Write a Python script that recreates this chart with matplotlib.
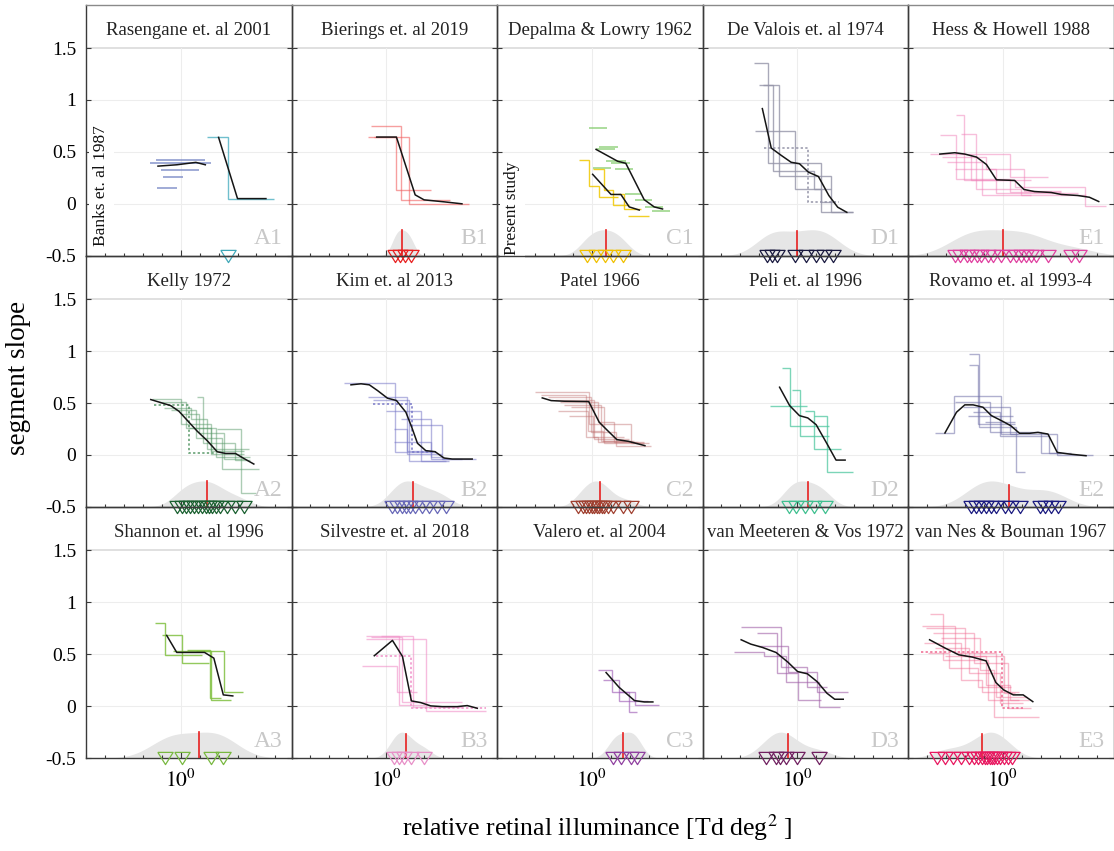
"""Segment slope vs relative retinal illuminance, one panel per study."""

import matplotlib

matplotlib.use("Agg")
import matplotlib.pyplot as plt
import numpy as np
from matplotlib.ticker import NullFormatter

# x values are log10(relative retinal illuminance), y values are segment slopes.

TITLES = [
    "Rasengane et. al 2001", "Bierings et. al 2019", "Depalma & Lowry 1962",
    "De Valois et. al 1974", "Hess & Howell 1988",
    "Kelly 1972", "Kim et. al 2013", "Patel 1966", "Peli et. al 1996",
    "Rovamo et. al 1993-4",
    "Shannon et. al 1996", "Silvestre et. al 2018", "Valero et. al 2004",
    "van Meeteren & Vos 1972", "van Nes & Bouman 1967",
]
TAGS = ["A1", "B1", "C1", "D1", "E1", "A2", "B2", "C2", "D2", "E2",
        "A3", "B3", "C3", "D3", "E3"]

# ---- A1
A1_BANKS_SEGS = [(-0.13, 0.13, 0.42), (-0.16, 0.16, 0.39), (-0.105, 0.095, 0.33),
                 (-0.095, 0.01, 0.26), (-0.126, -0.02, 0.15)]
A1_BANKS_MEAN_X = [-0.12, -0.02, 0.08, 0.13]
A1_BANKS_MEAN_Y = [0.363, 0.376, 0.399, 0.376]
A1_STEPS = [([0.14, 0.25, 0.49], [0.64, 0.05])]
A1_MEAN_X = [0.20, 0.30, 0.45]
A1_MEAN_Y = [0.64, 0.05, 0.05]
A1_MARKERS = [0.25]

# ---- B1
B1_STEPS = [([-0.079, 0.079, 0.337], [0.75, 0.04]),
            ([-0.095, 0.053, 0.237], [0.64, 0.13]),
            ([-0.063, 0.121, 0.437], [0.64, 0.0])]
B1_MEAN_X = [-0.05, 0.054, 0.153, 0.2, 0.305, 0.40]
B1_MEAN_Y = [0.643, 0.643, 0.086, 0.038, 0.019, 0.0]
B1_MARKERS = [0.047, 0.072, 0.1, 0.13]
B1_MEDIAN = 0.086

# ---- C1
C1_GREEN_SEGS = [(-0.016, 0.079, 0.73), (0.04, 0.14, 0.543), (0.021, 0.121, 0.524),
                 (0.074, 0.179, 0.41), (0.1, 0.2, 0.39), (0.005, 0.1, 0.347),
                 (0.121, 0.216, 0.337), (0.174, 0.268, 0.09), (0.226, 0.321, 0.04),
                 (0.279, 0.374, -0.033), (0.321, 0.411, -0.072)]
C1_GREEN_MEAN_X = [0.023, 0.137, 0.18, 0.277, 0.33, 0.374]
C1_GREEN_MEAN_Y = [0.524, 0.41, 0.39, 0.04, -0.03, -0.05]
C1_STEPS = [([-0.068, -0.016, 0.04, 0.137], [0.418, 0.17, 0.07]),
            ([0.005, 0.067, 0.11, 0.198], [0.338, 0.135, -0.007]),
            ([0.137, 0.172, 0.26], [0.096, -0.049]),
            ([0.19, 0.304], [-0.114])]
C1_MEAN_X = [0.005, 0.102, 0.154, 0.198, 0.251]
C1_MEAN_Y = [0.284, 0.09, 0.09, -0.03, -0.06]
C1_MARKERS = [-0.026, 0.021, 0.068, 0.11, 0.163]
C1_MEDIAN = 0.077

# ---- D1
D1_STEPS = [([-0.228, -0.154, 0.126, 0.293], [1.358, 0.392, -0.082]),
            ([-0.204, -0.128, 0.091, 0.179], [1.149, 0.32, 0.144]),
            ([-0.181, -0.098, 0.179, 0.293], [1.149, 0.266, -0.082]),
            ([-0.225, -0.009, 0.126, 0.20], [0.698, 0.144, 0.02])]
D1_DOTTED = ([-0.175, 0.056, 0.219], [0.54, 0.022])
D1_MEAN_X = [-0.184, -0.137, -0.084, -0.032, 0.012, 0.059, 0.112, 0.167, 0.214, 0.262]
D1_MEAN_Y = [0.917, 0.537, 0.466, 0.40, 0.386, 0.305, 0.263, 0.08, -0.033, -0.082]
D1_MARKERS = [-0.158, -0.132, -0.105, -0.011, 0.047, 0.1, 0.144, 0.188]
D1_MEDIAN = -0.002

# ---- E1
E1_STEPS = [([-0.244, -0.204, 0.151], [0.853, 0.231]),
            ([-0.332, -0.244, 0.037, 0.309], [0.66, 0.24, 0.111]),
            ([-0.221, -0.139, 0.098, 0.44], [0.676, 0.144, 0.08]),
            ([-0.384, -0.17, 0.063, 0.432, 0.545], [0.476, 0.225, 0.16, -0.023]),
            ([-0.323, -0.086, 0.112, 0.309], [0.45, 0.338, 0.128]),
            ([-0.296, -0.109, 0.151], [0.402, 0.08]),
            ([-0.253, -0.033, 0.396], [0.338, 0.102]),
            ([-0.165, 0.037, 0.239], [0.476, 0.257])]
E1_MEAN_X = [-0.332, -0.253, -0.2, -0.138, -0.086, -0.033, 0.063, 0.112, 0.168,
             0.256, 0.309, 0.396, 0.458, 0.507]
E1_MEAN_Y = [0.479, 0.492, 0.479, 0.45, 0.379, 0.231, 0.225, 0.138, 0.118, 0.109,
             0.09, 0.08, 0.063, 0.022]
E1_MARKERS = [-0.253, -0.226, -0.191, -0.165, -0.138, -0.112, -0.077, -0.051, -0.007,
              0.037, 0.072, 0.098, 0.125, 0.151, 0.177, 0.238, 0.362, 0.405]
E1_MEDIAN = 0.002

# ---- A2
A2_STEPS = [([-0.149, 0.0, 0.158, 0.333], [0.538, 0.296, 0.006]),
            ([-0.114, 0.026, 0.184, 0.368], [0.515, 0.257, -0.02]),
            ([-0.088, 0.053, 0.14, 0.36], [0.457, 0.344, 0.054]),
            ([-0.053, 0.079, 0.219, 0.412], [0.431, 0.167, -0.139]),
            ([0.0, 0.096, 0.228, 0.333], [0.392, 0.215, -0.042]),
            ([0.088, 0.119, 0.289, 0.368], [0.554, 0.119, -0.052]),
            ([0.193, 0.316, 0.395], [0.254, -0.364]),
            ([0.044, 0.158, 0.333], [0.257, 0.038])]
A2_DOTTED = ([-0.14, 0.044, 0.175], [0.48, 0.022])
A2_MEAN_X = [-0.158, -0.053, -0.009, 0.044, 0.088, 0.14, 0.193, 0.237, 0.289, 0.333, 0.386]
A2_MEAN_Y = [0.534, 0.476, 0.421, 0.315, 0.228, 0.138, 0.031, 0.015, 0.015, -0.033, -0.087]
A2_MARKERS = [-0.018, 0.005, 0.028, 0.049, 0.07, 0.091, 0.112, 0.132, 0.149, 0.167,
              0.184, 0.207, 0.246, 0.289, 0.333]
A2_MEDIAN = 0.14

# ---- B2
B2_STEPS = [([-0.221, 0.047, 0.261], [0.692, 0.026]),
            ([-0.098, 0.112, 0.296], [0.563, 0.009]),
            ([-0.072, 0.121, 0.332], [0.531, -0.055]),
            ([-0.002, 0.183, 0.314], [0.428, -0.055]),
            ([0.077, 0.235, 0.402], [0.347, -0.039]),
            ([0.121, 0.296, 0.472], [0.293, -0.039]),
            ([0.042, 0.112, 0.244], [0.251, 0.042]),
            ([0.042, 0.235, 0.305], [0.122, -0.023])]
B2_DOTTED = ([-0.072, 0.135, 0.261], [0.492, 0.026])
B2_MEAN_X = [-0.186, -0.133, -0.089, -0.046, 0.007, 0.054, 0.104, 0.135, 0.165, 0.209,
             0.258, 0.305, 0.349, 0.454]
B2_MEAN_Y = [0.676, 0.686, 0.676, 0.621, 0.547, 0.525, 0.412, 0.267, 0.113, 0.042,
             0.032, -0.029, -0.039, -0.039]
B2_MARKERS = [0.033, 0.059, 0.086, 0.107, 0.125, 0.153, 0.191, 0.226, 0.27, 0.314]
B2_MEDIAN = 0.143

# ---- C2
C2_STEPS = [([-0.302, -0.012, 0.207, 0.304], [0.604, 0.299, 0.112]),
            ([-0.267, -0.03, 0.032, 0.242], [0.582, 0.17, 0.122]),
            ([-0.232, -0.004, 0.128, 0.312], [0.556, 0.219, 0.09]),
            ([-0.196, 0.014, 0.198], [0.531, 0.154]),
            ([-0.17, 0.032, 0.119, 0.277], [0.508, 0.315, 0.122]),
            ([-0.144, 0.049, 0.207], [0.486, 0.132]),
            ([-0.109, 0.066, 0.277], [0.46, 0.112]),
            ([-0.179, -0.021, 0.058, 0.225], [0.428, 0.235, 0.138]),
            ([-0.118, 0.005, 0.172], [0.38, 0.17])]
C2_MEAN_X = [-0.261, -0.214, -0.144, -0.016, 0.04, 0.084, 0.133, 0.193, 0.281]
C2_MEAN_Y = [0.55, 0.524, 0.518, 0.515, 0.315, 0.235, 0.148, 0.132, 0.09]
C2_MARKERS = [-0.074, -0.047, -0.03, -0.012, 0.0, 0.014, 0.026, 0.04, 0.053, 0.066,
              0.088, 0.11, 0.163, 0.207]
C2_MEDIAN = 0.044

# ---- D2
D2_STEPS = [([-0.081, -0.04, 0.17], [0.836, 0.283]),
            ([-0.142, 0.053], [0.47]),
            ([-0.026, 0.017, 0.17], [0.627, 0.18]),
            ([0.039, 0.088, 0.232], [0.428, 0.058]),
            ([0.088, 0.158, 0.293], [0.379, -0.161])]
D2_MEAN_X = [-0.093, -0.04, 0.012, 0.056, 0.1, 0.158, 0.205, 0.253]
D2_MEAN_Y = [0.653, 0.476, 0.379, 0.357, 0.292, 0.106, -0.049, -0.049]
D2_MARKERS = [-0.045, -0.005, 0.042, 0.091, 0.147]
D2_MEDIAN = 0.056

# ---- E2
E2_STEPS = [([-0.358, -0.256, -0.011, 0.081], [0.212, 0.567, 0.203]),
            ([-0.179, -0.126, 0.072, 0.116], [0.969, 0.267, -0.167]),
            ([-0.179, -0.133, 0.063], [0.863, 0.3]),
            ([-0.253, -0.068, 0.203, 0.361], [0.509, 0.219, 0.019]),
            ([-0.209, 0.037, 0.286, 0.475], [0.467, 0.203, 0.003]),
            ([-0.182, 0.054], [0.374]),
            ([-0.156, -0.016, 0.242, 0.309], [0.412, 0.187, 0.019]),
            ([-0.095, 0.063], [0.316])]
E2_MEAN_X = [-0.305, -0.244, -0.2, -0.156, -0.104, -0.06, -0.007, 0.042, 0.089, 0.142,
             0.186, 0.239, 0.288, 0.353, 0.44]
E2_MEAN_Y = [0.212, 0.412, 0.483, 0.483, 0.46, 0.38, 0.331, 0.283, 0.209, 0.209,
             0.218, 0.202, 0.025, 0.009, -0.007]
E2_MARKERS = [-0.165, -0.139, -0.112, -0.086, -0.06, -0.033, 0.011, 0.046, 0.089,
              0.195, 0.221, 0.256, 0.291]
E2_MEDIAN = 0.032

# ---- A3
A3_STEPS = [([-0.137, -0.084, 0.114], [0.801, 0.489]),
            ([-0.1, 0.009, 0.149], [0.682, 0.412]),
            ([-0.04, 0.158, 0.263], [0.534, 0.06]),
            ([0.079, 0.228, 0.328], [0.527, 0.141]),
            ([0.035, 0.154, 0.211], [0.537, 0.077])]
A3_MEAN_X = [-0.074, -0.021, 0.126, 0.175, 0.225, 0.275]
A3_MEAN_Y = [0.682, 0.518, 0.518, 0.463, 0.109, 0.099]
A3_MARKERS = [-0.084, 0.009, 0.158, 0.225]
A3_MEDIAN = 0.095

# ---- B3
B3_STEPS = [([-0.028, 0.139, 0.402], [0.672, -0.004]),
            ([-0.081, 0.086, 0.402], [0.665, 0.038]),
            ([-0.107, 0.209, 0.525], [0.646, -0.043]),
            ([-0.128, 0.055, 0.165], [0.389, 0.141]),
            ([-0.107, 0.068, 0.226], [0.672, 0.012])]
B3_DOTTED = ([-0.054, 0.133, 0.525], [0.479, -0.02])
B3_MEAN_X = [-0.063, 0.033, 0.086, 0.133, 0.182, 0.235, 0.296, 0.375, 0.428, 0.481]
B3_MEAN_Y = [0.486, 0.634, 0.479, 0.051, 0.035, 0.003, -0.004, -0.004, 0.006, -0.02]
B3_MARKERS = [0.042, 0.068, 0.095, 0.13, 0.2]
B3_MEDIAN = 0.107

# ---- C3
C3_STEPS = [([0.031, 0.109, 0.226, 0.356], [0.35, 0.141, 0.012]),
            ([0.061, 0.144, 0.299], [0.253, 0.054]),
            ([0.144, 0.196, 0.237], [0.141, -0.052])]
C3_MEAN_X = [0.076, 0.144, 0.226, 0.278, 0.323]
C3_MEAN_Y = [0.324, 0.183, 0.054, 0.041, 0.041]
C3_MARKERS = [0.113, 0.154, 0.206, 0.237]
C3_MEDIAN = 0.165

# ---- D3
D3_STEPS = [([-0.296, -0.084, 0.054, 0.157], [0.763, 0.376, 0.189]),
            ([-0.214, -0.107, 0.002, 0.126], [0.705, 0.318, 0.06]),
            ([-0.208, -0.049, 0.105, 0.266], [0.583, 0.334, 0.134]),
            ([-0.333, -0.173, -0.059, 0.116, 0.225], [0.518, 0.479, 0.237, -0.005])]
D3_MEAN_X = [-0.296, -0.245, -0.183, -0.111, -0.049, 0.002, 0.054, 0.105, 0.157, 0.198, 0.243]
D3_MEAN_Y = [0.64, 0.598, 0.566, 0.517, 0.424, 0.334, 0.312, 0.237, 0.125, 0.067, 0.067]
D3_MARKERS = [-0.167, -0.111, -0.091, -0.059, -0.002, 0.116]
D3_MEDIAN = -0.049

# ---- E3
E3_STEPS = [([-0.386, -0.315, -0.077, 0.087], [0.888, 0.447, 0.06]),
            ([-0.428, -0.252, -0.036, 0.128], [0.775, 0.511, 0.093]),
            ([-0.407, -0.201, 0.005, 0.067], [0.752, 0.479, 0.131]),
            ([-0.366, -0.149, 0.026, 0.149], [0.704, 0.414, -0.02]),
            ([-0.325, -0.118, -0.046, 0.19], [0.656, 0.35, -0.101]),
            ([-0.418, -0.221, -0.108, 0.087], [0.607, 0.253, 0.141]),
            ([-0.356, -0.18, -0.015, 0.108], [0.559, 0.318, 0.028]),
            ([-0.397, -0.283, -0.128, 0.046], [0.511, 0.366, 0.189]),
            ([-0.304, -0.088, 0.036, 0.139], [0.479, 0.205, 0.06])]
E3_DOTTED = ([-0.432, -0.005, 0.108], [0.521, -0.02])
E3_MEAN_X = [-0.386, -0.304, -0.232, -0.16, -0.088, -0.036, 0.005, 0.056, 0.108, 0.159]
E3_MEAN_Y = [0.64, 0.56, 0.495, 0.473, 0.437, 0.228, 0.157, 0.109, 0.109, 0.044]
E3_MARKERS = [-0.345, -0.304, -0.263, -0.221, -0.18, -0.149, -0.128, -0.108, -0.093,
              -0.081, -0.068, -0.056, -0.044, -0.031, -0.015, 0.005, 0.03, 0.05]
E3_MEDIAN = -0.108

STEP_COLORS = ["#60b8c8", "#f06060", "#f0c800", "#9494a8", "#f080b8",
               "#5a9a6a", "#7878c8", "#c07070", "#50c8a0", "#7070a8",
               "#80c040", "#f090c8", "#a060b8", "#a060a8", "#f06890"]
STEP_ALPHAS = [0.9, 0.6, 0.85, 0.8, 0.5, 0.5, 0.55, 0.45, 0.75, 0.55,
               0.85, 0.6, 0.65, 0.6, 0.45]
MARKER_COLORS = ["#40a8b8", "#e82020", "#f0c000", "#1a1a40", "#e040a0",
                 "#1a6030", "#6868b8", "#a04030", "#40c090", "#1a1a80",
                 "#78b840", "#e890c8", "#9040a0", "#702060", "#e81860"]

X_LO, X_HI = -0.5, 0.585
Y_LO, Y_HI = -0.5, 1.92
FIG_W, FIG_H = 1114, 851


def build_panels():
    steps = [A1_STEPS, B1_STEPS, C1_STEPS, D1_STEPS, E1_STEPS,
             A2_STEPS, B2_STEPS, C2_STEPS, D2_STEPS, E2_STEPS,
             A3_STEPS, B3_STEPS, C3_STEPS, D3_STEPS, E3_STEPS]
    dotted = [None, None, None, D1_DOTTED, None,
              A2_DOTTED, B2_DOTTED, None, None, None,
              None, B3_DOTTED, None, None, E3_DOTTED]
    means = [(A1_MEAN_X, A1_MEAN_Y), (B1_MEAN_X, B1_MEAN_Y), (C1_MEAN_X, C1_MEAN_Y),
             (D1_MEAN_X, D1_MEAN_Y), (E1_MEAN_X, E1_MEAN_Y),
             (A2_MEAN_X, A2_MEAN_Y), (B2_MEAN_X, B2_MEAN_Y), (C2_MEAN_X, C2_MEAN_Y),
             (D2_MEAN_X, D2_MEAN_Y), (E2_MEAN_X, E2_MEAN_Y),
             (A3_MEAN_X, A3_MEAN_Y), (B3_MEAN_X, B3_MEAN_Y), (C3_MEAN_X, C3_MEAN_Y),
             (D3_MEAN_X, D3_MEAN_Y), (E3_MEAN_X, E3_MEAN_Y)]
    markers = [A1_MARKERS, B1_MARKERS, C1_MARKERS, D1_MARKERS, E1_MARKERS,
               A2_MARKERS, B2_MARKERS, C2_MARKERS, D2_MARKERS, E2_MARKERS,
               A3_MARKERS, B3_MARKERS, C3_MARKERS, D3_MARKERS, E3_MARKERS]
    medians = [None, B1_MEDIAN, C1_MEDIAN, D1_MEDIAN, E1_MEDIAN,
               A2_MEDIAN, B2_MEDIAN, C2_MEDIAN, D2_MEDIAN, E2_MEDIAN,
               A3_MEDIAN, B3_MEDIAN, C3_MEDIAN, D3_MEDIAN, E3_MEDIAN]
    panels = []
    for i in range(15):
        panels.append({
            "title": TITLES[i], "tag": TAGS[i], "steps": steps[i],
            "dotted": dotted[i], "mean": means[i], "markers": markers[i],
            "median": medians[i], "color": STEP_COLORS[i],
            "alpha": STEP_ALPHAS[i], "mcolor": MARKER_COLORS[i],
            "segments": [], "mean2": None, "side": None,
        })
    panels[0].update(segments=[(A1_BANKS_SEGS, "#7484c4")],
                     mean2=(A1_BANKS_MEAN_X, A1_BANKS_MEAN_Y),
                     side="Banks et. al 1987")
    panels[2].update(segments=[(C1_GREEN_SEGS, "#86cc70")],
                     mean2=(C1_GREEN_MEAN_X, C1_GREEN_MEAN_Y),
                     side="Present study")
    return panels


def kde(markers, grid):
    pts = np.asarray(markers, dtype=float)
    bw = pts.std(ddof=1) * len(pts) ** (-0.2)
    return np.exp(-0.5 * ((grid[:, None] - pts[None, :]) / bw) ** 2).sum(axis=1)


def style_axes(ax, row, col):
    ax.set_xscale("log")
    ax.set_xlim(10 ** X_LO, 10 ** X_HI)
    ax.set_ylim(Y_LO, Y_HI)
    ax.patch.set_visible(False)
    for side, spine in ax.spines.items():
        spine.set_color("#3a3a3a")
        spine.set_linewidth(1.0)
    if row == 0:
        ax.spines["top"].set_color("#8a8a8a")

    ax.set_xticks([1.0])
    ax.set_xticks(10 ** (np.array([k for k in range(-5, 6) if k != 0]) / 10), minor=True)
    ax.xaxis.set_minor_formatter(NullFormatter())
    if row == 2:
        ax.set_xticklabels(["$10^{0}$"], fontsize=15.5)
    else:
        ax.set_xticklabels([""])
    ax.set_yticks([-0.5, 0, 0.5, 1, 1.5])
    if col == 0:
        ax.set_yticklabels(["-0.5", "0", "0.5", "1", "1.5"], fontsize=14)
    else:
        ax.set_yticklabels([""] * 5)
    ax.tick_params(which="both", direction="in", top=False, right=True,
                   color="#3a3a3a", width=0.8)
    ax.tick_params(axis="y", length=3.5, pad=7)
    ax.tick_params(axis="x", which="major", length=4, pad=8)
    ax.tick_params(axis="x", which="minor", length=2.5)

    for y in (0, 0.5, 1):
        ax.axhline(y, color="#ededed", lw=0.8, zorder=0)
    ax.axhline(1.5, color="#dddddd", lw=1.3, zorder=0)
    ax.plot([1, 1], [Y_LO, 1.5], color="#ededed", lw=0.8, zorder=0)


def draw_panel(ax, p):
    grid = np.linspace(X_LO, X_HI, 400)
    if p["median"] is not None:
        dens = kde(p["markers"], grid)
        scale = 0.25 / dens.max()
        ax.fill_between(10 ** grid, Y_LO, Y_LO + dens * scale,
                        color="#e6e6e6", lw=0, zorder=1)
        med_h = kde(p["markers"], np.array([p["median"]]))[0] * scale
        ax.plot([10 ** p["median"]] * 2, [Y_LO, Y_LO + med_h],
                color="#e82020", lw=1.2, zorder=4)

    for segs, color in p["segments"]:
        for x0, x1, y in segs:
            ax.hlines(y, 10 ** x0, 10 ** x1, color=color, lw=1.2, alpha=0.8, zorder=2)

    for edges, levels in p["steps"]:
        ax.stairs(levels, 10 ** np.array(edges), baseline=None,
                  color=p["color"], lw=1.0, alpha=p["alpha"], zorder=2)
    if p["dotted"] is not None:
        edges, levels = p["dotted"]
        ax.stairs(levels, 10 ** np.array(edges), baseline=None,
                  color=p["color"], lw=1.1, ls=(0, (1.5, 1.5)), alpha=1.0, zorder=2)

    for mean in (p["mean"], p["mean2"]):
        if mean is not None:
            ax.plot(10 ** np.array(mean[0]), mean[1], color="#151515", lw=1.1, zorder=3)

    tri = [(-1, 0.8), (1, 0.8), (0, -0.8), (-1, 0.8)]
    ax.plot(10 ** np.array(p["markers"]), [Y_LO] * len(p["markers"]), ls="none",
            marker=tri, ms=11, mfc="none", mec=p["mcolor"], mew=0.9,
            clip_on=False, zorder=5)

    ax.text(0.5, 0.897, p["title"], transform=ax.transAxes, ha="center",
            va="center", fontsize=13.5, color="#222222")
    ax.text(0.955, 0.045, p["tag"], transform=ax.transAxes, ha="right",
            va="baseline", fontsize=17, color="#c8c8c8", zorder=6)
    if p["side"]:
        ax.text(0.075, 0.28 if p["tag"] == "A1" else 0.19, p["side"],
                transform=ax.transAxes, rotation=90, ha="center", va="center",
                fontsize=12.5, color="#111111", zorder=6,
                bbox=dict(facecolor="white", edgecolor="none", pad=3))


def main():
    plt.rcParams.update({
        "font.family": ["Liberation Serif", "DejaVu Serif"],
        "mathtext.fontset": "stix",
        "figure.facecolor": "white",
    })
    fig = plt.figure(figsize=(FIG_W / 100, FIG_H / 100), dpi=100)
    panels = build_panels()
    col_w, row_h = 205.5, 251.2
    for i, p in enumerate(panels):
        row, col = divmod(i, 5)
        left = (86 + col * col_w) / FIG_W
        bottom = 1 - (4.5 + (row + 1) * row_h) / FIG_H
        ax = fig.add_axes([left, bottom, col_w / FIG_W, row_h / FIG_H])
        style_axes(ax, row, col)
        draw_panel(ax, p)

    fig.text(19 / FIG_W, 1 - 378 / FIG_H, "segment slope", rotation=90,
             ha="center", va="center", fontsize=19.5)
    fig.text(597 / FIG_W, 1 - 828 / FIG_H, "relative retinal illuminance [Td deg$^2$ ]",
             ha="center", va="center", fontsize=18.5)
    fig.savefig("out.png", dpi=100)
    plt.close(fig)


if __name__ == "__main__":
    main()
